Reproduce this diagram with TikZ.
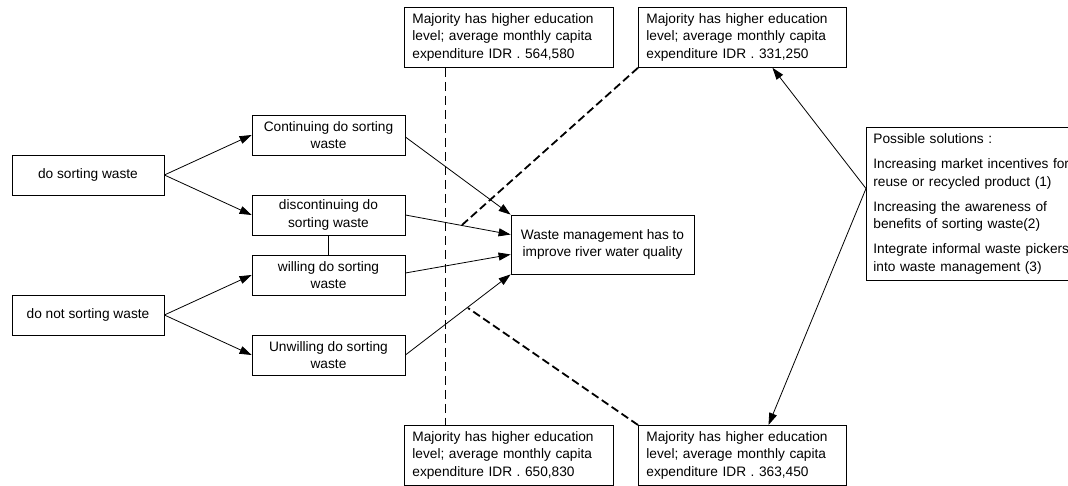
\documentclass[tikz,border=0pt]{standalone}
\usepackage{fontspec}
\setmainfont{Liberation Sans}
\usetikzlibrary{arrows.meta,calc}
\begin{document}
\begin{tikzpicture}[x=1pt,y=-1pt,
  txt/.style={font=\fontsize{13.7}{17.5}\selectfont},
  box/.style={txt, draw, line width=0.8pt, minimum width=153pt, minimum height=40pt, inner sep=2pt, align=center},
  info/.style={txt, draw, line width=0.8pt, minimum height=60pt, inner xsep=8pt, inner ysep=2pt, align=left},
  arr/.style={line width=0.8pt, -{Triangle[length=12pt,width=8pt]}},
  link/.style={line width=0.8pt},
  thindash/.style={line width=0.8pt, dash pattern=on 9pt off 5pt},
  thickdash/.style={line width=1.8pt, dash pattern=on 8pt off 4pt}]
\useasboundingbox (0,0) rectangle (1068,486);

% left boxes
\node[box, minimum width=152pt] (dsw) at (88,175) {do sorting waste};
\node[box, minimum width=152pt] (dnsw) at (88,315) {do not sorting waste};

% middle boxes
\node[box] (cont) at (328.5,135) {Continuing do sorting\\waste};
\node[box] (disc) at (328.5,215) {discontinuing do\\sorting waste};
\node[box] (will) at (328.5,275) {willing do sorting\\waste};
\node[box] (unw) at (328.5,355) {Unwilling do sorting\\waste};

% target
\node[box, minimum width=183pt, minimum height=59pt] (wm) at (602.5,244.5) {Waste management has to\\improve river water quality};

% info boxes
\node[info, anchor=north west, text width=193pt] (tl) at (404,7) {Majority has higher education\\level; average monthly capita\\expenditure IDR . 564,580};
\node[info, anchor=north west, text width=192pt] (tr) at (638,7) {Majority has higher education\\level; average monthly capita\\expenditure IDR . 331,250};
\node[info, anchor=north west, text width=193pt] (bl) at (404,425) {Majority has higher education\\level; average monthly capita\\expenditure IDR . 650,830};
\node[info, anchor=north west, text width=192pt] (br) at (638,425) {Majority has higher education\\level; average monthly capita\\expenditure IDR . 363,450};

% solutions
\node[txt, draw, line width=0.8pt, anchor=north west, minimum height=153pt, text width=240pt, inner xsep=7pt, align=left] (ps) at (866,127)
  {Possible solutions :\\[7.5pt]
   Increasing market incentives for\\reuse or recycled product (1)\\[7.5pt]
   Increasing the awareness of\\benefits of sorting waste(2)\\[7.5pt]
   Integrate informal waste pickers\\into waste management (3)};

% dashed separators
\draw[thindash] ($(tl.south west)+(41,0)$) -- ($(bl.north west)+(41,0)$);
\coordinate (d1) at (462,225);
\coordinate (d2) at (468,308);
\draw[thickdash] (tr.south west) -- (d1);
\draw[thickdash] (br.north west) -- (d2);

% left arrows
\draw[arr] (dsw.east) -- (cont.west);
\draw[arr] (dsw.east) -- (disc.west);
\draw[arr] (dnsw.east) -- (will.west);
\draw[arr] (dnsw.east) -- (unw.west);
\draw[link] (disc.south) -- (will.north);

% into target
\draw[arr] ($(cont.east)+(0,2)$) -- (wm.north west);
\draw[arr] (disc.east) -- ($(wm.north west)!1/3!(wm.south west)$);
\draw[arr] ($(will.east)+(0,-2)$) -- ($(wm.north west)!2/3!(wm.south west)$);
\draw[arr] (unw.east) -- (wm.south west);

% solutions arrows
\coordinate (pv) at ($(ps.north west)!0.4!(ps.south west)$);
\draw[arr] (pv) -- ($(tr.south west)!0.644!(tr.south east)$);
\draw[arr] (pv) -- ($(br.north west)!0.625!(br.north east)$);
\end{tikzpicture}
\end{document}
